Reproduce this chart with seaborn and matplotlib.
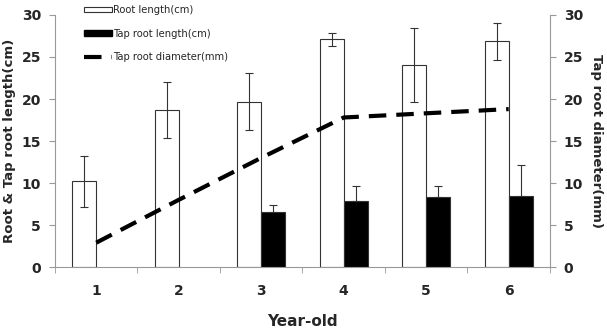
import numpy as np
import pandas as pd
import seaborn as sns
import matplotlib.pyplot as plt
from matplotlib.patches import Patch
from matplotlib.lines import Line2D
from matplotlib.ticker import FixedLocator

years = ['1', '2', '3', '4', '5', '6']
root_len = [10.2, 18.7, 19.7, 27.1, 24.1, 26.9]
root_err = [3.0, 3.3, 3.4, 0.75, 4.4, 2.2]
tap_len = [np.nan, np.nan, 6.6, 7.9, 8.3, 8.4]
tap_err = [0, 0, 0.8, 1.8, 1.3, 3.7]
tap_diam = [2.9, 8.0, 13.0, 17.8, 18.3, 18.8]

df = pd.DataFrame({
    'year': years * 2,
    'value': root_len + tap_len,
    'kind': ['Root length(cm)'] * 6 + ['Tap root length(cm)'] * 6,
})

sns.set_style("white")
plt.rcParams['font.family'] = ['DejaVu Sans']
fig = plt.figure(figsize=(6.07, 3.33), dpi=100)
ax = fig.add_axes([0.0906, 0.198, 0.8154, 0.757])

sns.barplot(data=df, x='year', y='value', hue='kind', ax=ax,
            palette=['white', 'black'], edgecolor='#333333', linewidth=0.8,
            width=0.58, gap=0, errorbar=None, legend=False)

pos = np.arange(len(years))
bw = 0.29
ax.errorbar(pos - bw / 2, root_len, yerr=root_err, fmt='none',
            ecolor='#333333', elinewidth=0.8, capsize=3, capthick=0.8)
tap_y = np.array(tap_len)
ax.errorbar(pos + bw / 2, tap_y, yerr=[np.zeros(6), tap_err], fmt='none',
            ecolor='#333333', elinewidth=0.8, capsize=3, capthick=0.8)

ax.set_ylim(0, 30)
ax.set_xlim(-0.5, 5.5)
ax.set_yticks([0, 5, 10, 15, 20, 25, 30])

ax2 = ax.twinx()
sns.lineplot(x=pos, y=tap_diam, ax=ax2, color='black', linewidth=3)
ax2.lines[0].set_dashes([4.2, 2.4])
ax2.set_ylim(0, 30)
ax2.set_yticks([0, 5, 10, 15, 20, 25, 30])

for a in (ax, ax2):
    for s in a.spines.values():
        s.set_visible(False)
ax.spines['left'].set_visible(True)
ax.spines['bottom'].set_visible(True)
ax2.spines['right'].set_visible(True)
for s in (ax.spines['left'], ax.spines['bottom'], ax2.spines['right']):
    s.set_color('#999999')
    s.set_linewidth(0.8)

ax.tick_params(axis='y', left=True, length=4, color='#999999', labelsize=10, pad=6)
ax2.tick_params(axis='y', right=True, length=4, color='#999999', labelsize=10, pad=6)
ax.xaxis.set_minor_locator(FixedLocator(np.arange(-0.5, 6, 1)))
ax.tick_params(axis='x', which='major', length=0, labelsize=10, pad=12)
ax.tick_params(axis='x', which='minor', bottom=True, length=4, color='#999999')
for lab in ax.get_xticklabels() + ax.get_yticklabels() + ax2.get_yticklabels():
    lab.set_fontweight('bold')

ax.set_xlabel('Year-old', fontsize=11, fontweight='bold', labelpad=12)
ax.set_ylabel('Root & Tap root length(cm)', fontsize=9.5, fontweight='bold')
ax2.set_ylabel('Tap root diameter(mm)', fontsize=9.5, fontweight='bold',
               rotation=270, labelpad=14)

handles = [
    Patch(facecolor='white', edgecolor='#333333', linewidth=0.8),
    Patch(facecolor='black', edgecolor='black'),
    Line2D([0], [0], color='black', linewidth=3, dashes=[4.2, 2.4]),
]
labels = ['Root length(cm)', 'Tap root length(cm)', 'Tap root diameter(mm)']
ax.legend(handles, labels, loc='upper left', bbox_to_anchor=(0.04, 1.075),
          frameon=False, fontsize=7.2, handlelength=2.8, handleheight=0.5,
          handletextpad=0.1, labelspacing=1.35)

fig.savefig('out.png', dpi=100)
